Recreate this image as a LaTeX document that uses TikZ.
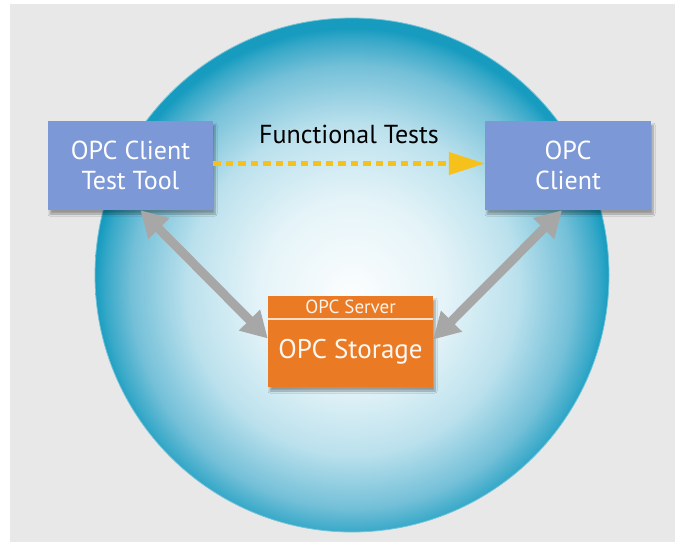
\documentclass[tikz,border=0pt]{standalone}
\usepackage{fontspec}
\setmainfont{PT Sans}
\usetikzlibrary{arrows.meta,shadows.blur}

\definecolor{bggray}{HTML}{E8E8E8}
\definecolor{clientblue}{HTML}{7C98D6}
\definecolor{serverorange}{HTML}{EA7B24}
\definecolor{linkgray}{HTML}{A7A7A7}
\definecolor{testyellow}{HTML}{F6C11A}
\definecolor{sphereedge}{HTML}{179CC0}
\definecolor{spheremid}{HTML}{74C0D8}
\definecolor{spherelight}{HTML}{D3ECF4}

\pgfdeclareradialshading{sphere}{\pgfpoint{0bp}{-2bp}}{%
  color(0bp)=(white!94!spherelight);
  color(9bp)=(white!40!spherelight);
  color(16bp)=(spherelight!75!spheremid);
  color(21.5bp)=(spheremid);
  color(24bp)=(sphereedge!65!spheremid);
  color(25bp)=(sphereedge);
  color(50bp)=(sphereedge)}

\tikzset{
  clientbox/.style={rectangle, fill=clientblue, text=white, align=center,
    minimum width=165pt, minimum height=89pt,
    font=\fontsize{26}{29.5}\selectfont,
    blur shadow={shadow xshift=2pt, shadow yshift=-4pt, shadow blur steps=6, shadow opacity=35}},
  serverbox/.style={rectangle, fill=serverorange, minimum width=165pt, minimum height=91pt,
    blur shadow={shadow xshift=2pt, shadow yshift=-4pt, shadow blur steps=6, shadow opacity=35}},
  duplex/.style={draw=linkgray, line width=9pt,
    {Triangle[length=26pt,width=28pt]}-{Triangle[length=26pt,width=28pt]}},
  testflow/.style={draw=testyellow, line width=4.5pt, dash pattern=on 7.5pt off 5pt,
    -{Triangle[length=36pt,width=22pt]}}
}

\begin{document}
\begin{tikzpicture}[x=1pt, y=-1pt]

%%%%%%%%%%%% Background and sphere
\fill[white] (0,0) rectangle (675,542);
\fill[bggray] (10,4) rectangle (675,542);
\shade[shading=sphere] (352,275) circle (257);
\draw[white!40!sphereedge, line width=0.8pt] (352,275) circle (257);

%%%%%%%%%%%% Clients
\node[clientbox] (testtool) at (130.5,165.5) {OPC Client\\Test Tool};
\node[clientbox, minimum width=166pt] (client) at (568,165.5) {OPC\\Client};

%%%%%%%%%%%% Server
\node[serverbox] (server) at (350.5,341.5) {};
\draw[white!75!serverorange, line width=1.5pt] (server.west |- 0,319) -- (server.east |- 0,319);
\node[text=white!90!serverorange, font=\fontsize{19}{21}\selectfont] (servertitle) at (350.5,307) {OPC Server};
\node[text=white!95!serverorange, font=\fontsize{27}{30}\selectfont] (storage) at (350.5,352) {OPC Storage};

%%%%%%%%%%%% Links
\draw[testflow] ([yshift=2pt]testtool.east) -- node[above=14pt, text=black, font=\fontsize{26}{29}\selectfont] (testlabel) {Functional Tests} ([yshift=2pt]client.west);
\draw[duplex] ([xshift=10pt]testtool.south) -- ([yshift=3pt]server.west);
\draw[duplex] ([yshift=2pt]server.east) -- ([xshift=-6pt]client.south);

\end{tikzpicture}
\end{document}
